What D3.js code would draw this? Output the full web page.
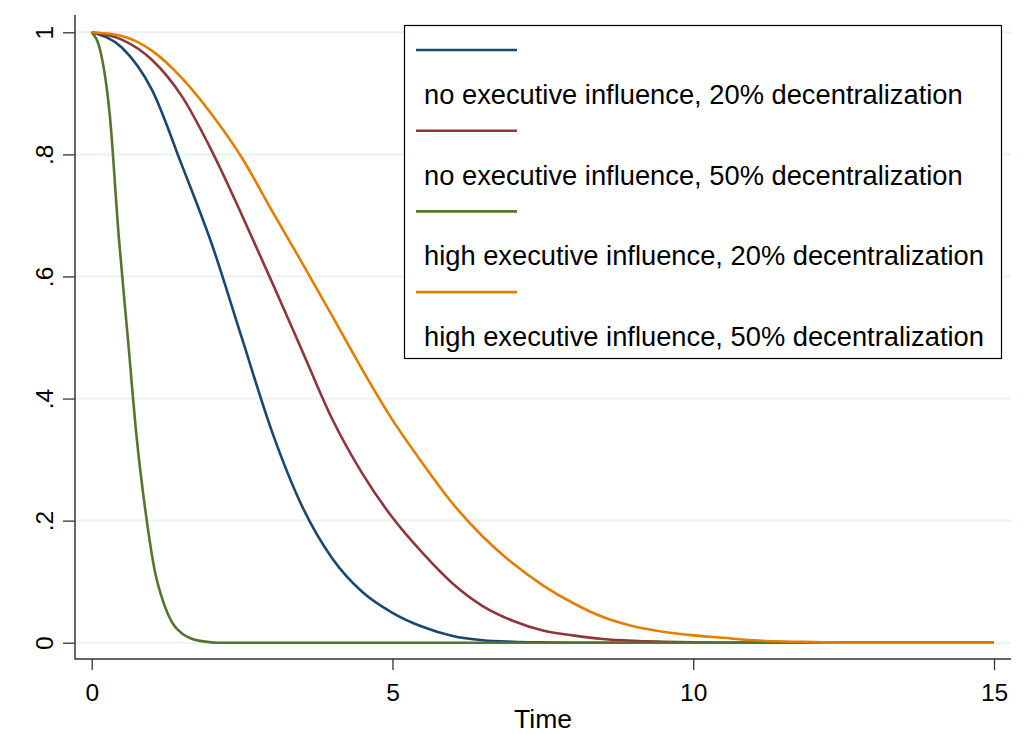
<!DOCTYPE html>
<meta charset="utf-8">
<style>
  body { margin: 0; background: #fff; }
  text { font-family: "Liberation Sans", Arial, sans-serif; fill: #000; }
</style>
<script src="https://d3js.org/d3.v7.min.js"></script>
<svg width="1027" height="734"></svg>
<script>
const time = d3.range(0, 15.01, 0.5);
const noExec20 = [1, 0.975, 0.906, 0.782, 0.652, 0.498, 0.345, 0.223, 0.138, 0.083, 0.049, 0.026, 0.011, 0.004, 0.0015, 0.0005,
  0, 0, 0, 0, 0, 0, 0, 0, 0, 0, 0, 0, 0, 0, 0];
const noExec50 = [1, 0.988, 0.955, 0.895, 0.805, 0.70, 0.59, 0.478, 0.366, 0.277, 0.205, 0.147, 0.097, 0.06, 0.036, 0.02,
  0.012, 0.006, 0.003, 0.0015, 0.0005, 0, 0, 0, 0, 0, 0, 0, 0, 0, 0];
const highExec50 = [1, 0.994, 0.97, 0.925, 0.865, 0.794, 0.707, 0.622, 0.535, 0.447, 0.365, 0.294, 0.228, 0.174, 0.13, 0.094,
  0.065, 0.042, 0.027, 0.018, 0.012, 0.008, 0.004, 0.002, 0.001, 0, 0, 0, 0, 0, 0];
const greenTime = [0, 0.15, 0.3, 0.45, 0.6, 0.75, 0.9, 1.05, 1.2, 1.35, 1.5, 1.65, 1.8, 1.95, 2.1, 15];
const highExec20 = [1, 0.967, 0.865, 0.665, 0.5, 0.334, 0.211, 0.117, 0.064, 0.031, 0.015, 0.007, 0.003, 0.001, 0, 0];

const labels = [
  'no executive influence, 20% decentralization',
  'no executive influence, 50% decentralization',
  'high executive influence, 20% decentralization',
  'high executive influence, 50% decentralization'
];
const colors = ['#1a476f', '#90353b', '#55752f', '#e37e00'];
const xTicks = [0, 5, 10, 15];
const yTicks = [0, 0.2, 0.4, 0.6, 0.8, 1];
const yTickLabels = ['0', '.2', '.4', '.6', '.8', '1'];

const series = [
  { t: time, v: noExec20 },
  { t: time, v: noExec50 },
  { t: greenTime, v: highExec20 },
  { t: time, v: highExec50 }
];

const svg = d3.select('svg');
const plotL = 75, plotR = 1011, plotT = 15, plotB = 659;

const x = d3.scaleLinear().domain([0, 15]).range([91.7, 994]);
const y = d3.scaleLinear().domain([0, 1]).range([642.7, 32.3]);

// grid
svg.append('g').selectAll('line')
  .data(yTicks)
  .enter().append('line')
  .attr('x1', plotL).attr('x2', plotR)
  .attr('y1', d => y(d)).attr('y2', d => y(d))
  .attr('stroke', '#eaf2f3')
  .attr('stroke-width', 2);

// axes
const yAxis = d3.axisLeft(y).tickValues(yTicks)
  .tickFormat((d, i) => yTickLabels[i]).tickSize(12).tickSizeOuter(0).tickPadding(10);
const yg = svg.append('g').attr('transform', `translate(${plotL},0)`).call(yAxis);
yg.select('.domain').remove();
yg.selectAll('.tick line').attr('stroke', '#333').attr('stroke-width', 1.3);
yg.selectAll('.tick text')
  .attr('font-size', 24.5)
  .attr('font-family', '"Liberation Sans", Arial, sans-serif')
  .attr('fill', '#000')
  .attr('transform', 'rotate(-90)')
  .attr('x', 0).attr('y', -22).attr('dy', 0)
  .attr('text-anchor', 'middle');

const xAxis = d3.axisBottom(x).tickValues(xTicks).tickSize(11).tickSizeOuter(0).tickPadding(8);
const xg = svg.append('g').attr('transform', `translate(0,${plotB})`).call(xAxis);
xg.select('.domain').remove();
xg.selectAll('.tick line').attr('stroke', '#333').attr('stroke-width', 1.3);
xg.selectAll('.tick text')
  .attr('font-size', 24.5)
  .attr('font-family', '"Liberation Sans", Arial, sans-serif')
  .attr('fill', '#000')
  .attr('dy', 0).attr('y', 41.5);

svg.append('line').attr('x1', plotL).attr('x2', plotL).attr('y1', plotT).attr('y2', plotB + 0.5)
  .attr('stroke', '#333').attr('stroke-width', 1.5);
svg.append('line').attr('x1', plotL).attr('x2', plotR).attr('y1', plotB).attr('y2', plotB)
  .attr('stroke', '#333').attr('stroke-width', 1.5);

svg.append('text')
  .attr('x', 543).attr('y', 728)
  .attr('text-anchor', 'middle')
  .attr('font-size', 26.5)
  .text('Time');

// lines
const line = d3.line().curve(d3.curveMonotoneX);
series.forEach((s, i) => {
  svg.append('path')
    .attr('d', line(s.t.map((t, j) => [x(t), y(s.v[j])])))
    .attr('fill', 'none')
    .attr('stroke', colors[i])
    .attr('stroke-width', 2.6)
    .attr('stroke-linejoin', 'round');
});

// legend
const lg = svg.append('g');
lg.append('rect')
  .attr('x', 404.5).attr('y', 25.5).attr('width', 597).attr('height', 333)
  .attr('fill', '#fff').attr('stroke', '#000').attr('stroke-width', 1.2);
labels.forEach((lab, i) => {
  const ly = 50 + i * 80.7;
  lg.append('line')
    .attr('x1', 416).attr('x2', 517).attr('y1', ly).attr('y2', ly)
    .attr('stroke', colors[i]).attr('stroke-width', 2.6);
  lg.append('text')
    .attr('x', 424).attr('y', ly + 54)
    .attr('font-size', 27.3)
    .text(lab);
});
</script>
